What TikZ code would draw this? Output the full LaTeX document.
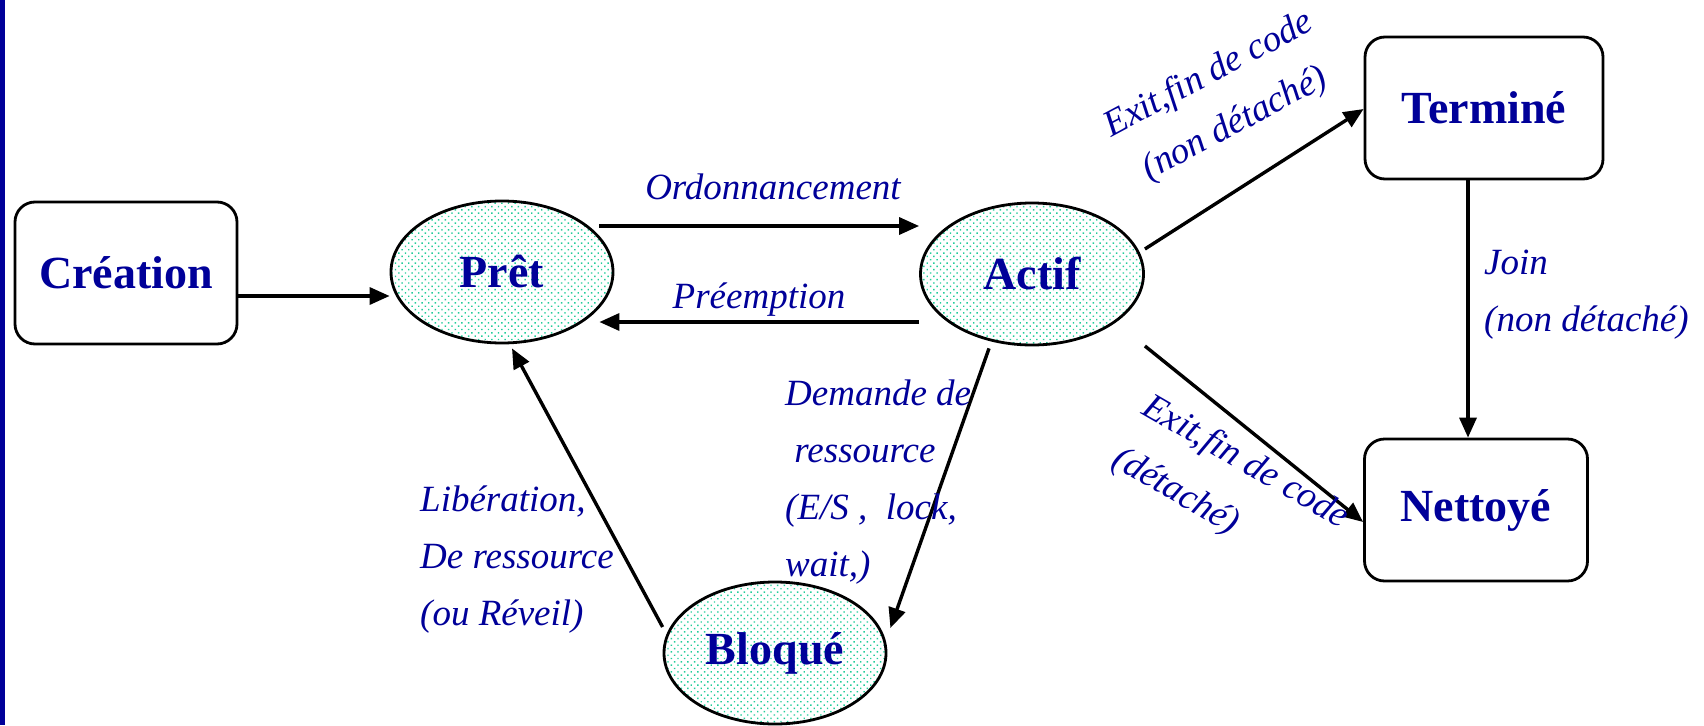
\documentclass[tikz,border=0pt]{standalone}
\usepackage{fontspec}
\setmainfont{Liberation Serif}
\usetikzlibrary{arrows.meta,shapes.geometric,patterns.meta,calc}
\definecolor{labelblue}{HTML}{000099}
\definecolor{dotgreen}{HTML}{22CC99}

\begin{document}
\begin{tikzpicture}[x=1pt,y=-1pt,
  statebox/.style={draw, line width=2.8pt, rounded corners=20pt,
    minimum width=222pt, minimum height=142pt, text=labelblue,
    font=\fontsize{46}{50}\selectfont\bfseries},
  stateoval/.style={ellipse, draw, line width=2.8pt, inner sep=0pt,
    minimum width=222pt, minimum height=142pt, text=labelblue,
    pattern={Dots[distance=4.7pt,angle=45,radius=1pt]}, pattern color=dotgreen,
    font=\fontsize{46}{50}\selectfont\bfseries},
  arr/.style={line width=3.4pt, -{Triangle[length=20pt,width=17pt]}},
  lbl/.style={inner sep=0pt, text=labelblue,
    font=\itshape\fontsize{37}{57}\selectfont}]

\useasboundingbox (0,0) rectangle (1704,725);

% left rule
\fill[labelblue] (0,0) rectangle (4.5,725);

% states
\node[statebox] (cre) at (126,273) {Création};
\node[stateoval] (pret) at (502,272) {Prêt};
\node[stateoval, minimum width=223pt] (actif) at (1032,274) {Actif};
\node[stateoval] (bloq) at (775,653) {Bloqué};
\node[statebox, minimum width=238pt] (term) at (1484,108) {Terminé};
\node[statebox, minimum width=223pt] (net) at (1476,510) {Nettoyé};

% transitions
\draw[arr] ($(cre.east)+(0,23)$) -- ($(pret.west)+(0,24)$);
\draw[arr] ($(pret.east)+(-15,-46)$) -- ($(actif.west)+(0,-48)$);
\draw[arr] ($(actif.west)+(0,48)$) -- ($(pret.east)+(-15,50)$);
\draw[arr] ($(actif.east)+(0,-25)$) -- ($(term.west)+(0,1)$);
\draw[arr] ($(actif.east)+(0,72)$) -- ($(net.west)+(0,12)$);
\draw[arr] ($(term.south)+(-16,0)$) -- ($(net.north)+(-8,0)$);
\draw[arr] ($(actif.south)+(-43,2)$) -- ($(bloq.east)+(3,-25)$);
\draw[arr] ($(bloq.west)+(0,-26)$) -- ($(pret.south)+(10,4)$);

% transition labels
\node[lbl] (lord) at (773,187) {Ordonnancement};
\node[lbl] (lpre) at (759,300) {Préemption};
\node[lbl, rotate=28, align=center, font=\itshape\fontsize{37}{56}\selectfont]
  (lexitA) at (1222,100) {Exit,fin de code\\(non détaché)};
\node[lbl, align=left, anchor=west] (ljoin) at (1484,295) {Join\\(non détaché)};
\node[lbl, rotate=-30, align=left, font=\itshape\fontsize{37}{60}\selectfont]
  (lexitB) at (1230,489) {Exit,fin de code\\(détaché)};
\node[lbl, align=left, anchor=west] (ldem) at (785,482)
  {Demande de\\\hspace*{0.25em}ressource\\(E/S ,\ \ lock,\\wait,)};
\node[lbl, align=left, anchor=west] (llib) at (420,560)
  {Libération,\\De ressource\\(ou Réveil)};

\end{tikzpicture}
\end{document}
